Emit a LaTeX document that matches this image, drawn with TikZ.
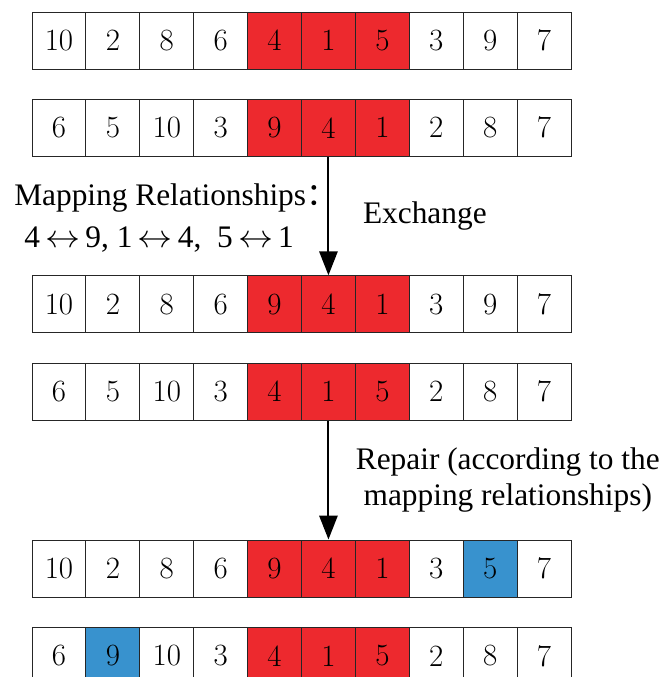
\documentclass[tikz,border=0pt]{standalone}
\usepackage{fontspec}
\usepackage{graphicx}
\newfontfamily\tnr{Liberation Serif}
\newfontfamily\cjk{Noto Sans CJK SC}
\usetikzlibrary{arrows.meta}
\definecolor{swapred}{RGB}{237,41,46}
\definecolor{fixblue}{RGB}{56,146,206}
\newcommand{\lrarr}{\,\scalebox{1.2}[1.1]{$\leftrightarrow$}\,}

\begin{document}
\begin{tikzpicture}[x=0.025cm,y=-0.025cm,
	cell/.style={draw=black!85,line width=0.7pt,minimum width=1.3475cm,minimum height=1.425cm,inner sep=0pt,font=\fontsize{22}{26}\selectfont},
	flow/.style={line width=1.4pt,-{Triangle[length=17pt,width=13pt]}},
	lbl/.style={inner sep=0pt,font=\tnr\fontsize{22.3}{25}\selectfont}]
	\clip (0,0) rectangle (664,677);

	% parents
	\foreach \v/\c [count=\i] in {10/white,2/white,8/white,6/white,4/swapred,1/swapred,5/swapred,3/white,9/white,7/white}
		\node[cell,fill=\c] (a\i) at ({32+53.9*(\i-0.5)},40.5) {\v};
	\foreach \v/\c [count=\i] in {6/white,5/white,10/white,3/white,9/swapred,4/swapred,1/swapred,2/white,8/white,7/white}
		\node[cell,fill=\c] (b\i) at ({32+53.9*(\i-0.5)},127.7) {\v};

	% after exchange
	\foreach \v/\c [count=\i] in {10/white,2/white,8/white,6/white,9/swapred,4/swapred,1/swapred,3/white,9/white,7/white}
		\node[cell,fill=\c] (c\i) at ({32+53.9*(\i-0.5)},304.3) {\v};
	\foreach \v/\c [count=\i] in {6/white,5/white,10/white,3/white,4/swapred,1/swapred,5/swapred,2/white,8/white,7/white}
		\node[cell,fill=\c] (d\i) at ({32+53.9*(\i-0.5)},391.5) {\v};

	% after repair
	\foreach \v/\c [count=\i] in {10/white,2/white,8/white,6/white,9/swapred,4/swapred,1/swapred,3/white,5/fixblue,7/white}
		\node[cell,fill=\c] (e\i) at ({32+53.9*(\i-0.5)},568.5) {\v};
	\foreach \v/\c [count=\i] in {6/white,9/fixblue,10/white,3/white,4/swapred,1/swapred,5/swapred,2/white,8/white,7/white}
		\node[cell,fill=\c] (f\i) at ({32+53.9*(\i-0.5)},656) {\v};

	\node[lbl,anchor=west] (map) at (14,198) {Mapping Relationships{\cjk ：}};
	\node[lbl,anchor=west] (pairs) at (24,240) {4\lrarr9, 1\lrarr4, \ 5\lrarr1};

	\draw[flow] (b6) -- node[lbl,right=0.84cm] {Exchange} (c6);
	\draw[flow] (d6) -- node[lbl,right=0.66cm,align=center] {Repair (according to the\\mapping relationships)} (e6);
\end{tikzpicture}
\end{document}
